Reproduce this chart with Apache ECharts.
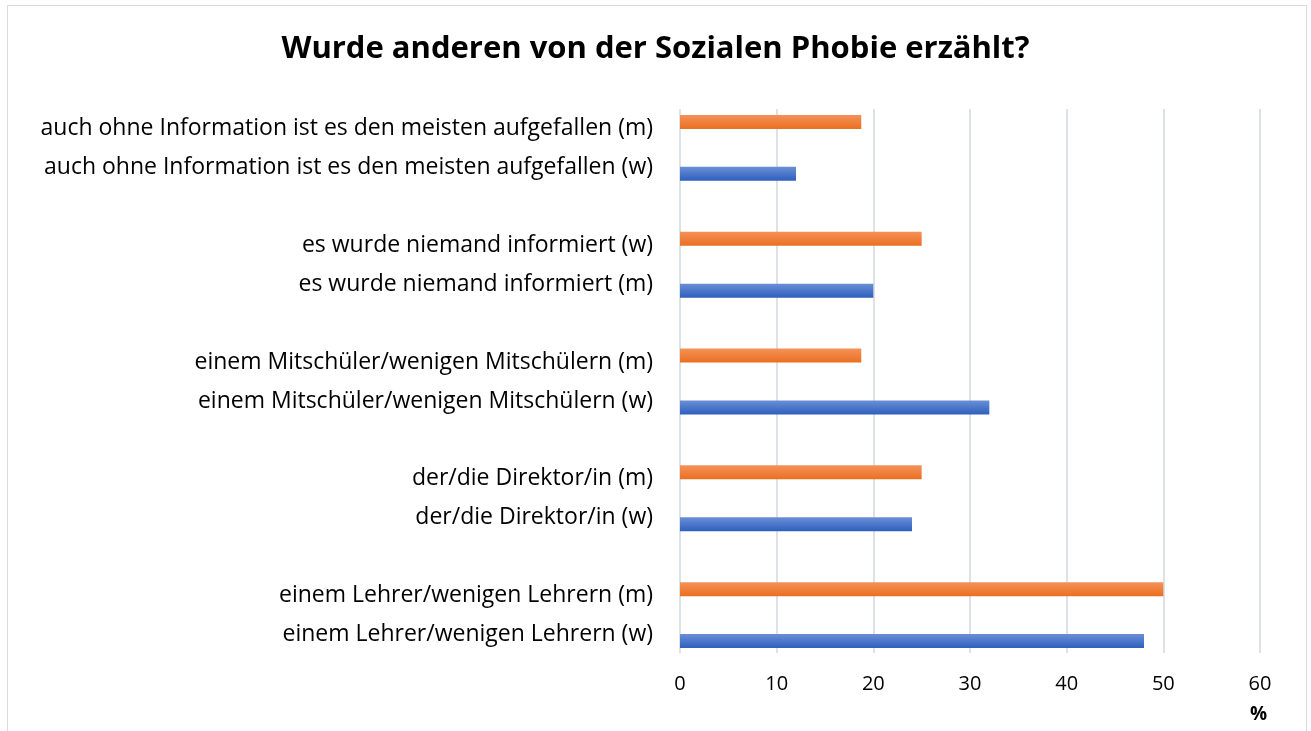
<!DOCTYPE html>
<html>
<head>
<meta charset="utf-8">
<title>Wurde anderen von der Sozialen Phobie erzählt?</title>
<script src="https://cdn.jsdelivr.net/npm/echarts@6/dist/echarts.min.js"></script>
<style>
html,body{margin:0;padding:0;background:#fff;}
#chart{width:1311px;height:731px;}
</style>
</head>
<body>
<div id="chart"></div>
<script>
// Beschriftung: obere Zeile (orange) und untere Zeile (blau) je Gruppe, von unten nach oben
var labelOben = [
	"einem Lehrer/wenigen Lehrern (m)",
	"der/die Direktor/in (m)",
	"einem Mitschüler/wenigen Mitschülern (m)",
	"es wurde niemand informiert (w)",
	"auch ohne Information ist es den meisten aufgefallen (m)"
];
var labelUnten = [
	"einem Lehrer/wenigen Lehrern (w)",
	"der/die Direktor/in (w)",
	"einem Mitschüler/wenigen Mitschülern (w)",
	"es wurde niemand informiert (m)",
	"auch ohne Information ist es den meisten aufgefallen (w)"
];
var werteBlau = [48, 24, 32, 20, 12];
var werteOrange = [50, 25, 18.75, 25, 18.75];
var xTicks = [0, 10, 20, 30, 40, 50, 60];

var kategorien = labelOben.map(function (t, i) { return t + "\n" + labelUnten[i]; });
var font = "'Open Sans', sans-serif";

function verlauf(oben, unten) {
	return new echarts.graphic.LinearGradient(0, 0, 0, 1, [
		{ offset: 0, color: oben },
		{ offset: 1, color: unten }
	]);
}

var option = {
	animation: false,
	backgroundColor: '#fff',
	textStyle: { fontFamily: font },
	title: {
		text: 'Wurde anderen von der Sozialen Phobie erzählt?',
		left: 'center',
		top: 29,
		textStyle: { fontFamily: font, fontSize: 31, fontWeight: 'bold', color: '#000' }
	},
	graphic: [
		{ type: 'rect', shape: { x: 7.5, y: 5.5, width: 1299, height: 740 },
		  style: { fill: 'none', stroke: '#d9d9d9', lineWidth: 1 } },
		{ type: 'text', left: 1250, top: 705,
		  style: { text: '%', font: "bold 19px 'Open Sans', sans-serif", fill: '#000' } }
	],
	grid: [
		{ left: 680, right: 51, top: 109, bottom: 78 },   // Gitterlinien
		{ left: 680, right: 51, top: 89.5, bottom: 57.5 } // Balken
	],
	xAxis: [{
		gridIndex: 0,
		type: 'value',
		min: xTicks[0],
		max: xTicks[xTicks.length - 1],
		interval: xTicks[1] - xTicks[0],
		axisLine: { show: false },
		axisTick: { show: false },
		axisLabel: { fontSize: 20, color: '#000', margin: 21, fontFamily: font },
		splitLine: { show: true, lineStyle: { color: '#dde1e8', width: 2 } }
	}, {
		gridIndex: 1,
		type: 'value',
		min: xTicks[0],
		max: xTicks[xTicks.length - 1],
		show: false,
		splitLine: { show: false }
	}],
	yAxis: [{
		gridIndex: 0,
		type: 'category',
		data: kategorien,
		show: false
	}, {
		gridIndex: 1,
		type: 'category',
		data: kategorien,
		axisLine: { show: false },
		axisTick: { show: false },
		axisLabel: { fontSize: 23, lineHeight: 39, color: '#000', margin: 27, fontFamily: font }
	}],
	// orange zuerst, damit es oben im Paar liegt
	series: [{
		name: 'm',
		type: 'bar',
		xAxisIndex: 1,
		yAxisIndex: 1,
		data: werteOrange,
		barWidth: 14,
		barGap: '271%',
		itemStyle: { color: verlauf('#f4925a', '#eb6f1f') }
	}, {
		name: 'w',
		type: 'bar',
		xAxisIndex: 1,
		yAxisIndex: 1,
		data: werteBlau,
		barWidth: 14,
		barGap: '271%',
		itemStyle: { color: verlauf('#6a8fd6', '#2e5fbd') }
	}]
};

var myChart = echarts.init(document.getElementById('chart'));
myChart.setOption(option);
</script>
</body>
</html>
